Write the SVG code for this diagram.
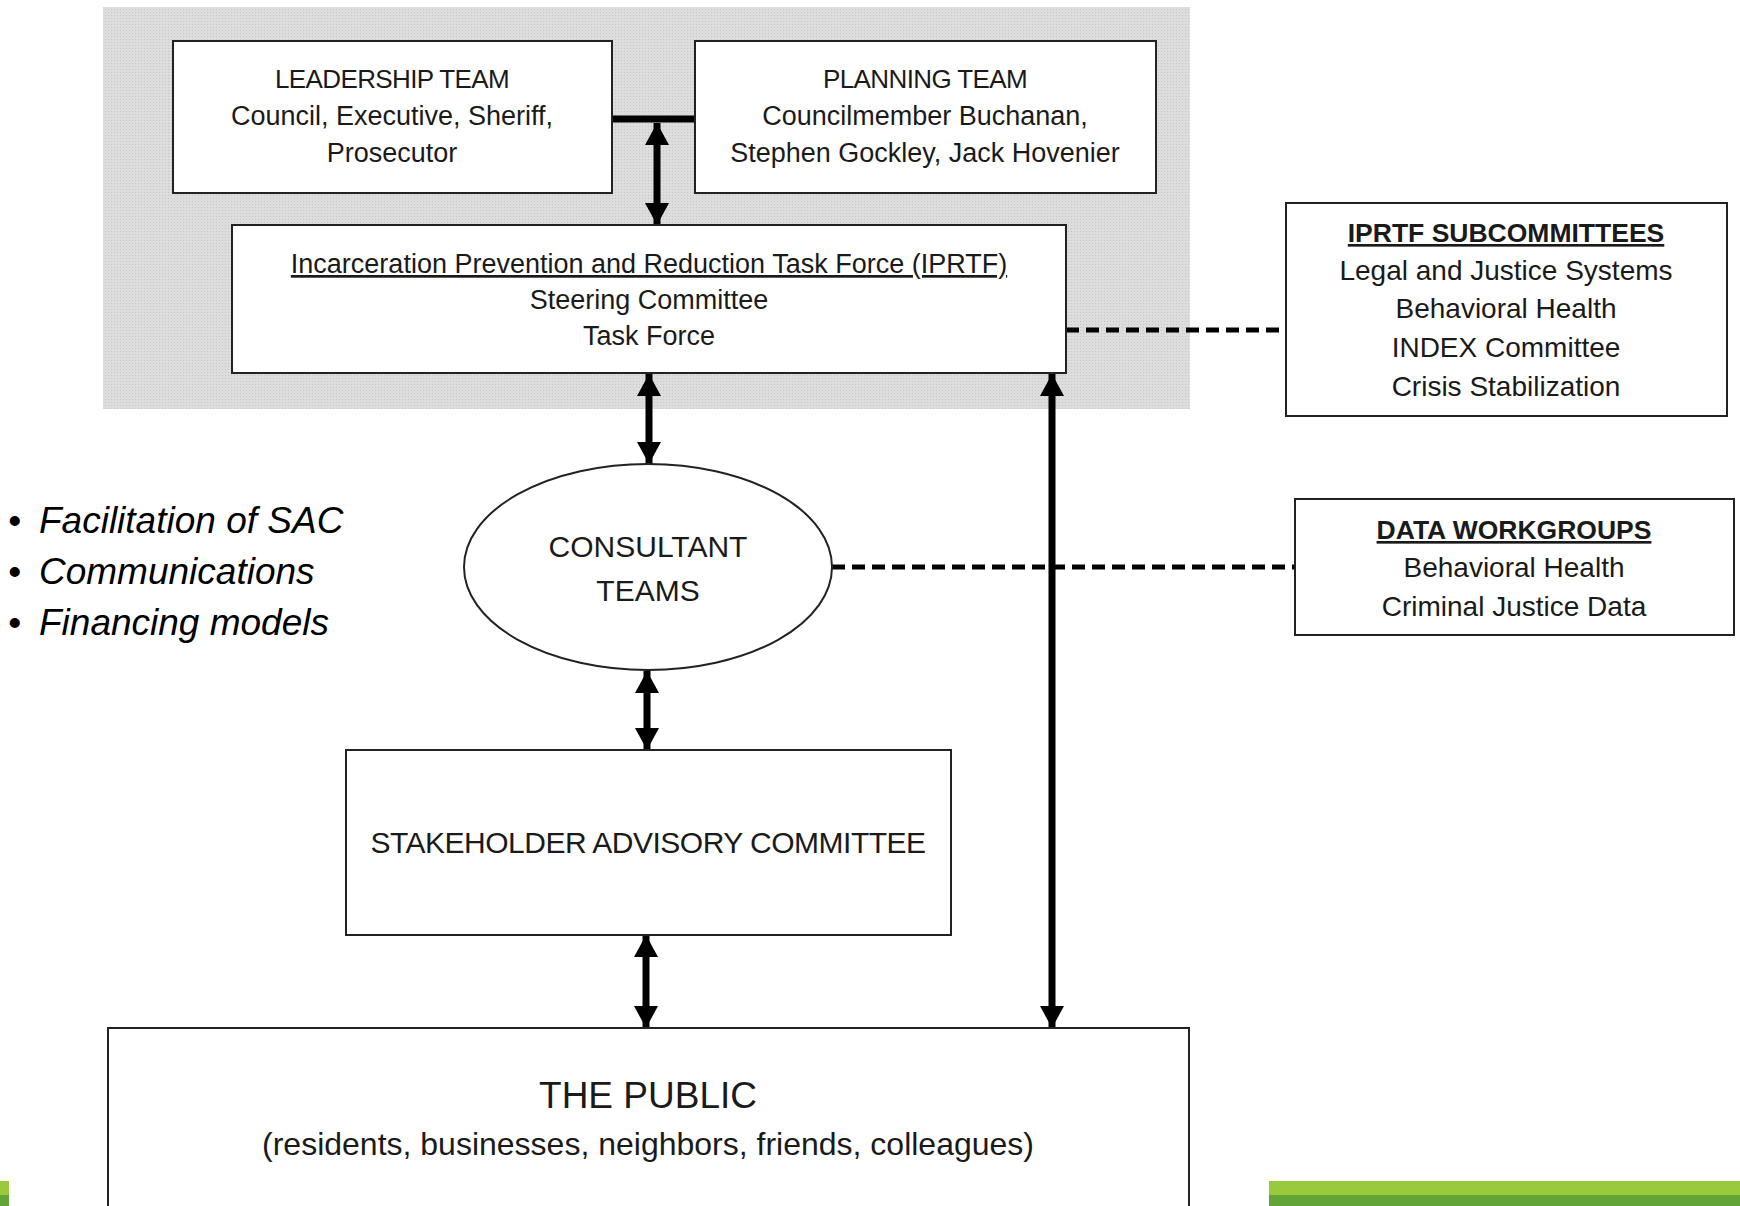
<svg xmlns="http://www.w3.org/2000/svg" width="1740" height="1206" viewBox="0 0 1740 1206">
<style>
.box{fill:#fff;stroke:#222;stroke-width:2}
.t{font-family:"Liberation Sans",Arial,sans-serif;fill:#1a1a1a;text-anchor:middle}
.b{font-weight:bold}
.u{text-decoration:underline}
.arr{stroke:#000;stroke-width:7;fill:none;marker-start:url(#ah);marker-end:url(#ah)}
.bar{stroke:#000;stroke-width:7;fill:none}
.dash{stroke:#000;stroke-width:5;stroke-dasharray:13 7;fill:none}
.bul{font-family:"Liberation Sans",Arial,sans-serif;font-style:italic;fill:#000;font-size:37px}
</style>
<defs>
<marker id="ah" markerUnits="userSpaceOnUse" markerWidth="22" markerHeight="24" refX="22" refY="12" orient="auto-start-reverse" viewBox="0 0 22 24">
<path d="M0,0 L22,12 L0,24 z" fill="#000"/>
</marker>
<pattern id="dots" width="3" height="3" patternUnits="userSpaceOnUse">
<rect width="3" height="3" fill="#dddddd"/>
<rect width="1" height="1" fill="#c6c6c6"/>
</pattern>
</defs>
<rect width="1740" height="1206" fill="#fff"/>
<rect id="bg" x="103" y="7" width="1087" height="402" fill="url(#dots)"/>
<g id="green">
<rect x="1269" y="1181" width="471" height="14" fill="#9aca3c"/>
<rect x="1269" y="1195" width="471" height="11" fill="#62a437"/>
<rect x="0" y="1181" width="9" height="14" fill="#9aca3c"/>
<rect x="0" y="1195" width="9" height="11" fill="#62a437"/>
</g>
<g id="connectors">
<line class="bar" x1="610" y1="119" x2="697" y2="119"/>
<line class="arr" x1="657" y1="123" x2="657" y2="225"/>
<line class="arr" x1="649" y1="374" x2="649" y2="464"/>
<line class="arr" x1="647" y1="671" x2="647" y2="750"/>
<line class="arr" x1="646" y1="935" x2="646" y2="1028"/>
<line class="arr" x1="1052" y1="374" x2="1052" y2="1028"/>
<line class="dash" x1="1066" y1="330" x2="1286" y2="330"/>
<line class="dash" x1="832" y1="567" x2="1295" y2="567"/>
</g>
<g id="leadership">
<rect class="box" x="173" y="41" width="439" height="152"/>
<text class="t" font-size="26" letter-spacing="-0.6" x="392" y="88">LEADERSHIP TEAM</text>
<text class="t" font-size="27" x="392" y="125">Council, Executive, Sheriff,</text>
<text class="t" font-size="27" x="392" y="162">Prosecutor</text>
</g>
<g id="planning">
<rect class="box" x="695" y="41" width="461" height="152"/>
<text class="t" font-size="26" letter-spacing="-0.6" x="925" y="88">PLANNING TEAM</text>
<text class="t" font-size="27" x="925" y="125">Councilmember Buchanan,</text>
<text class="t" font-size="27" x="925" y="162">Stephen Gockley, Jack Hovenier</text>
</g>
<g id="iprtf">
<rect class="box" x="232" y="225" width="834" height="148"/>
<text class="t u" font-size="27" x="649" y="273">Incarceration Prevention and Reduction Task Force (IPRTF)</text>
<text class="t" font-size="27" x="649" y="309">Steering Committee</text>
<text class="t" font-size="27" x="649" y="345">Task Force</text>
</g>
<g id="subcommittees">
<rect class="box" x="1286" y="203" width="441" height="213"/>
<text class="t b u" font-size="26.5" x="1506" y="242">IPRTF SUBCOMMITTEES</text>
<text class="t" font-size="28" x="1506" y="280">Legal and Justice Systems</text>
<text class="t" font-size="28" x="1506" y="318">Behavioral Health</text>
<text class="t" font-size="28" x="1506" y="357">INDEX Committee</text>
<text class="t" font-size="28" x="1506" y="396">Crisis Stabilization</text>
</g>
<g id="consultant">
<ellipse cx="648" cy="567" rx="184" ry="103" fill="#fff" stroke="#222" stroke-width="2"/>
<text class="t" font-size="30" x="648" y="557">CONSULTANT</text>
<text class="t" font-size="30" x="648" y="601">TEAMS</text>
</g>
<g id="bullets">
<text class="bul" x="8" y="533">•</text><text class="bul" x="39" y="533">Facilitation of SAC</text>
<text class="bul" x="8" y="584">•</text><text class="bul" x="39" y="584">Communications</text>
<text class="bul" x="8" y="635">•</text><text class="bul" x="39" y="635">Financing models</text>
</g>
<g id="data">
<rect class="box" x="1295" y="499" width="439" height="136"/>
<text class="t b u" font-size="26.5" x="1514" y="539">DATA WORKGROUPS</text>
<text class="t" font-size="28" x="1514" y="577">Behavioral Health</text>
<text class="t" font-size="28" x="1514" y="616">Criminal Justice Data</text>
</g>
<g id="sac">
<rect class="box" x="346" y="750" width="605" height="185"/>
<text class="t" font-size="30" letter-spacing="-0.5" x="648" y="853">STAKEHOLDER ADVISORY COMMITTEE</text>
</g>
<g id="public">
<rect class="box" x="108" y="1028" width="1081" height="200"/>
<text class="t" font-size="37" x="648" y="1108">THE PUBLIC</text>
<text class="t" font-size="32" x="648" y="1155">(residents, businesses, neighbors, friends, colleagues)</text>
</g>
</svg>
